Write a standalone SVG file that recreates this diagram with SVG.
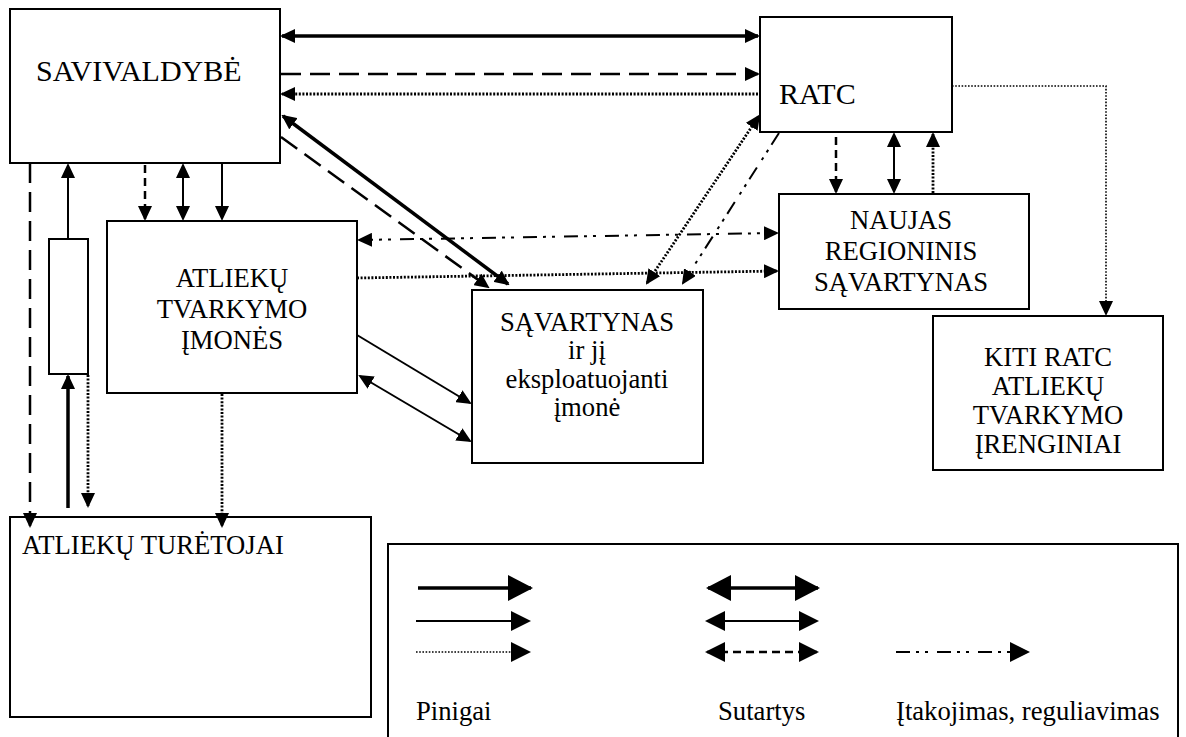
<svg xmlns="http://www.w3.org/2000/svg" width="1186" height="737" viewBox="0 0 1186 737">
  <style>
    .box { fill: #fff; stroke: #000; stroke-width: 2; }
    .txt { font-family: 'Liberation Serif', 'Times New Roman', serif; font-size: 26.67px; fill: #000; }
    .big { font-size: 30px; }
    .mid { text-anchor: middle; }
    .c { fill: none; stroke: #000; }
    .thick { stroke-width: 3.5; }
    .thin { stroke-width: 2; }
    .dash { stroke-width: 2.5; stroke-dasharray: 20 9; }
    .sdash { stroke-width: 2.5; stroke-dasharray: 8 5; }
    .dot { stroke-width: 2.8; stroke-dasharray: 2 1.6; }
    .ldot { stroke-width: 1.6; stroke-dasharray: 1.6 1.6; }
    .dashdot { stroke-width: 2; stroke-dasharray: 14 6 3 6 3 9; }
  </style>
  <defs>
    <marker id="ah" viewBox="0 0 15 14" refX="13" refY="7" markerWidth="15" markerHeight="14" markerUnits="userSpaceOnUse" orient="auto-start-reverse">
      <path d="M0,0 L15,7 L0,14 z" fill="#000"/>
    </marker>
    <marker id="ahL" viewBox="0 0 25 26" refX="23" refY="13" markerWidth="25" markerHeight="26" markerUnits="userSpaceOnUse" orient="auto-start-reverse">
      <path d="M0,0 L25,13 L0,26 z" fill="#000"/>
    </marker>
    <marker id="ahM" viewBox="0 0 20 20" refX="18" refY="10" markerWidth="20" markerHeight="20" markerUnits="userSpaceOnUse" orient="auto-start-reverse">
      <path d="M0,0 L20,10 L0,20 z" fill="#000"/>
    </marker>
  </defs>

  <rect width="1186" height="737" fill="#fff"/>

  <!-- nodes -->
  <g id="savivaldybe">
    <rect class="box" x="10" y="9" width="270" height="154"/>
    <text class="txt big" x="36" y="81">SAVIVALDYBĖ</text>
  </g>
  <g id="ratc">
    <rect class="box" x="760" y="17" width="192" height="115"/>
    <text class="txt big" x="779" y="104">RATC</text>
  </g>
  <g id="imones">
    <rect class="box" x="107" y="221" width="250" height="172"/>
    <text class="txt mid" x="232" y="287">ATLIEKŲ</text>
    <text class="txt mid" x="232" y="318">TVARKYMO</text>
    <text class="txt mid" x="232" y="349">ĮMONĖS</text>
  </g>
  <g id="tarpinis">
    <rect class="box" x="49" y="239" width="39" height="135"/>
  </g>
  <g id="savartynas">
    <rect class="box" x="472" y="290" width="231" height="173"/>
    <text class="txt mid" x="587" y="331">SĄVARTYNAS</text>
    <text class="txt mid" x="587" y="359">ir jį</text>
    <text class="txt mid" x="587" y="388">eksploatuojanti</text>
    <text class="txt mid" x="587" y="416">įmonė</text>
  </g>
  <g id="naujas">
    <rect class="box" x="779" y="194" width="250" height="115"/>
    <text class="txt mid" x="901" y="229">NAUJAS</text>
    <text class="txt mid" x="901" y="260">REGIONINIS</text>
    <text class="txt mid" x="901" y="291">SĄVARTYNAS</text>
  </g>
  <g id="kiti">
    <rect class="box" x="933" y="316" width="230" height="154"/>
    <text class="txt mid" x="1048" y="366">KITI RATC</text>
    <text class="txt mid" x="1048" y="395">ATLIEKŲ</text>
    <text class="txt mid" x="1048" y="424">TVARKYMO</text>
    <text class="txt mid" x="1048" y="453">ĮRENGINIAI</text>
  </g>
  <g id="turetojai">
    <rect class="box" x="10" y="517" width="361" height="200"/>
    <text class="txt" x="22" y="554">ATLIEKŲ TURĖTOJAI</text>
  </g>

  <!-- connectors -->
  <g id="connectors">
    <line class="c thick" x1="282" y1="36" x2="758" y2="36" marker-start="url(#ah)" marker-end="url(#ah)"/>
    <line class="c dash" x1="281" y1="74" x2="758" y2="74" marker-end="url(#ah)"/>
    <line class="c dot" x1="758" y1="94" x2="282" y2="94" marker-end="url(#ah)"/>

    <line class="c thick" x1="283" y1="116" x2="508" y2="284" marker-start="url(#ah)" marker-end="url(#ah)"/>
    <line class="c dash" x1="281" y1="137" x2="488" y2="287" marker-end="url(#ah)"/>

    <line class="c sdash" x1="145" y1="165" x2="145" y2="219" marker-end="url(#ah)"/>
    <line class="c thin" x1="183" y1="165" x2="183" y2="219" marker-start="url(#ah)" marker-end="url(#ah)"/>
    <line class="c thin" x1="222" y1="163" x2="222" y2="219" marker-end="url(#ah)"/>

    <line class="c dash" x1="30" y1="163" x2="30" y2="526" marker-end="url(#ah)"/>
    <line class="c thin" x1="68" y1="239" x2="68" y2="165" marker-end="url(#ah)"/>
    <line class="c thick" x1="68" y1="508" x2="68" y2="376" marker-end="url(#ah)"/>
    <line class="c dot" x1="88" y1="375" x2="88" y2="506" marker-end="url(#ah)"/>
    <line class="c dot" x1="222" y1="394" x2="222" y2="526" marker-end="url(#ah)"/>

    <line class="c dashdot" x1="359" y1="240" x2="777" y2="233" marker-start="url(#ah)" marker-end="url(#ah)"/>
    <line class="c dot" x1="357" y1="278" x2="777" y2="271" marker-end="url(#ah)"/>
    <line class="c dot" x1="647" y1="283" x2="759" y2="116" marker-start="url(#ah)" marker-end="url(#ah)"/>
    <line class="c dashdot" x1="779" y1="133" x2="683" y2="283" marker-end="url(#ah)"/>

    <line class="c thin" x1="357" y1="335" x2="470" y2="403" marker-end="url(#ah)"/>
    <line class="c thin" x1="360" y1="376" x2="470" y2="441" marker-start="url(#ah)" marker-end="url(#ah)"/>

    <line class="c sdash" x1="836" y1="137" x2="836" y2="192" marker-end="url(#ah)"/>
    <line class="c thin" x1="894" y1="134" x2="894" y2="192" marker-start="url(#ah)" marker-end="url(#ah)"/>
    <line class="c dot" x1="933" y1="193" x2="933" y2="134" marker-end="url(#ah)"/>

    <polyline class="c ldot" points="952,86 1106,86 1106,314" marker-end="url(#ah)"/>
  </g>

  <!-- legend -->
  <g id="legend">
    <rect class="box" x="388" y="544" width="790" height="200"/>
    <line class="c thick" x1="418" y1="588" x2="531" y2="588" marker-end="url(#ahL)"/>
    <line class="c thin" x1="416" y1="621" x2="529" y2="621" marker-end="url(#ahM)"/>
    <line class="c ldot" x1="416" y1="652" x2="529" y2="652" marker-end="url(#ahM)"/>
    <line class="c thick" x1="708" y1="588" x2="818" y2="588" marker-start="url(#ahL)" marker-end="url(#ahL)"/>
    <line class="c thin" x1="707" y1="621" x2="817" y2="621" marker-start="url(#ahM)" marker-end="url(#ahM)"/>
    <line class="c sdash" x1="707" y1="652" x2="817" y2="652" marker-start="url(#ahM)" marker-end="url(#ahM)"/>
    <line class="c dashdot" x1="896" y1="652" x2="1028" y2="652" marker-end="url(#ahM)"/>
    <text class="txt" x="416" y="720">Pinigai</text>
    <text class="txt" x="718" y="720">Sutartys</text>
    <text class="txt" x="896" y="720">Įtakojimas, reguliavimas</text>
  </g>
</svg>
